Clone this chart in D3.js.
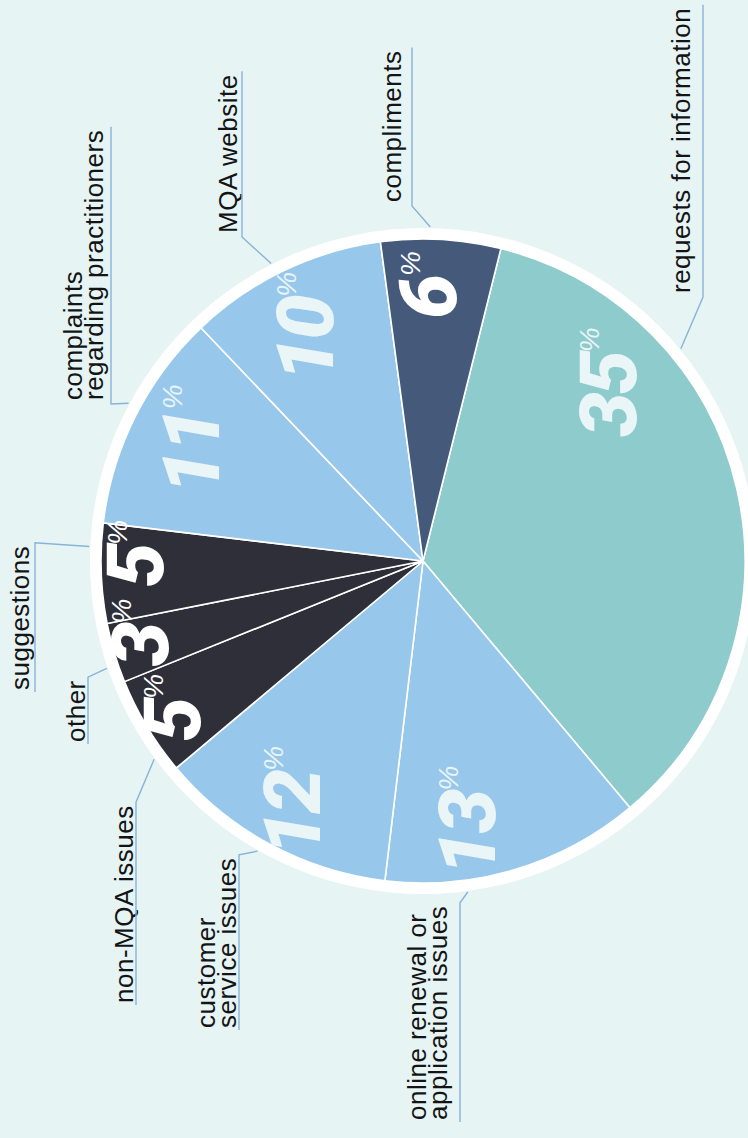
<!DOCTYPE html>
<html>
<head>
<meta charset="utf-8">
<script src="https://cdn.jsdelivr.net/npm/d3@7"></script>
<style>
  html, body { margin: 0; padding: 0; background: #E7F4F4; }
  svg { display: block; }
</style>
</head>
<body>
<svg id="chart" width="748" height="1138"></svg>
<script>
// ---- data ----
const categories = [
  "requests for information",
  "online renewal or application issues",
  "customer service issues",
  "non-MQA issues",
  "other",
  "suggestions",
  "complaints regarding practitioners",
  "MQA website",
  "compliments"
];
const shares = [35, 13, 12, 5, 3, 5, 11, 10, 6];
const labelLines = [
  ["requests for information"],
  ["online renewal or", "application issues"],
  ["customer", "service issues"],
  ["non-MQA issues"],
  ["other"],
  ["suggestions"],
  ["complaints", "regarding practitioners"],
  ["MQA website"],
  ["compliments"]
];

// ---- styling ----
const sliceColors = ["#8ECBCD", "#98C7EC", "#98C7EC", "#2E2F38", "#2E2F38", "#2E2F38", "#98C7EC", "#98C7EC", "#45597A"];
const valueColors = ["#E9F5F6", "#E9F5F6", "#E9F5F6", "#FFFFFF", "#FFFFFF", "#FFFFFF", "#E9F5F6", "#E9F5F6", "#FFFFFF"];

// ---- layout ----
const W = 748, H = 1138;
const cx = 423, cy = 561;
const R = 322, ringR = 333;
const startDeg = 14;
// where the big percentage sits inside each slice (fraction of its sweep, radius)
const valueT = [0.27, 0.66, 0.48, 0.42, 0.5, 0.56, 0.46, 0.43, 0.4];
const valueR = [248, 276, 285, 298, 296, 288, 257, 251, 263];
// where each callout line meets the pie (fraction of the slice sweep)
const leaderT = [0.29, 0.69, 0.53, 0.2, 0.3, 0.76, 0.54, 0.46, 0.41];
// callout text: x of the vertical rule, y where reading starts, side of the bend, baseline x of last line
const callouts = [
  { lineX: 703, startY: 293, side: "above", baseX: 690 },
  { lineX: 460, startY: 1120, side: "below", baseX: 447 },
  { lineX: 239, startY: 1028, side: "below", baseX: 236 },
  { lineX: 136, startY: 1003, side: "below", baseX: 133 },
  { lineX: 88,  startY: 742, side: "below", baseX: 85 },
  { lineX: 35,  startY: 690, side: "below", baseX: 29 },
  { lineX: 111, startY: 400, side: "above", baseX: 103 },
  { lineX: 242, startY: 233, side: "above", baseX: 237 },
  { lineX: 412, startY: 202, side: "above", baseX: 401 }
];
const lineGap = 21;

const data = categories.map((c, i) => ({ category: c, value: shares[i], lines: labelLines[i] }));
const color = d3.scaleOrdinal().domain(categories).range(sliceColors);
const valueColor = d3.scaleOrdinal().domain(categories).range(valueColors);

const svg = d3.select("#chart");
svg.append("rect").attr("width", W).attr("height", H).attr("fill", "#E7F4F4");

const a0 = startDeg * Math.PI / 180;
const pie = d3.pie().sort(null).value(d => d.value).startAngle(a0).endAngle(a0 + 2 * Math.PI);
const arc = d3.arc().innerRadius(0).outerRadius(R);
const arcs = pie(data);
const polar = (a, r) => [r * Math.sin(a), -r * Math.cos(a)];

const g = svg.append("g").attr("transform", `translate(${cx},${cy})`);

// white rim
g.append("circle").attr("r", ringR).attr("fill", "#FFFFFF");

// slices
g.selectAll("path.slice")
  .data(arcs)
  .join("path")
  .attr("class", "slice")
  .attr("d", arc)
  .attr("fill", d => color(d.data.category))
  .attr("stroke", "#FFFFFF")
  .attr("stroke-width", 1.6)
  .attr("stroke-linejoin", "round");

// percentage values
const numSize = 80, pctSize = 28;
arcs.forEach((d, i) => {
  const a = d.startAngle + valueT[i] * (d.endAngle - d.startAngle);
  const [x, y] = polar(a, valueR[i]);
  const lg = g.append("g").attr("transform", `translate(${x},${y}) rotate(-90)`);
  const num = lg.append("text")
    .attr("text-anchor", "middle")
    .attr("y", numSize * 0.355)
    .attr("fill", valueColor(d.data.category))
    .style("font-family", "Roboto, 'Liberation Sans', Arial, sans-serif")
    .style("font-weight", 900)
    .style("font-style", "italic")
    .style("font-size", numSize + "px")
    .style("letter-spacing", "-3px")
    .text(d.data.value);
  const hw = num.node().getComputedTextLength() / 2;
  lg.append("text")
    .attr("x", hw + 1)
    .attr("y", -numSize * 0.355 + pctSize * 0.72)
    .attr("fill", valueColor(d.data.category))
    .style("font-family", "'Liberation Sans', Arial, sans-serif")
    .style("font-weight", 400)
    .style("font-style", "italic")
    .style("font-size", pctSize + "px")
    .text("%");
});

// callouts
const callG = svg.append("g");
arcs.forEach((d, i) => {
  const c = callouts[i];
  const lines = d.data.lines;
  const tg = callG.append("g");
  let maxLen = 0;
  lines.forEach((ln, j) => {
    const bx = c.baseX - (lines.length - 1 - j) * lineGap;
    const t = tg.append("text")
      .attr("transform", `translate(${bx},${c.startY}) rotate(-90)`)
      .attr("fill", "#141416")
      .style("font-family", "'Liberation Sans', Arial, sans-serif")
      .style("font-size", "26px")
      .style("letter-spacing", "0.5px")
      .text(ln);
    maxLen = Math.max(maxLen, t.node().getComputedTextLength());
  });
  const a = d.startAngle + leaderT[i] * (d.endAngle - d.startAngle);
  const [ex, ey] = polar(a, ringR + 1);
  const path = d3.path();
  if (c.side === "above") {
    path.moveTo(c.lineX, c.startY - maxLen - 3);
    path.lineTo(c.lineX, c.startY + 4);
  } else {
    path.moveTo(c.lineX, c.startY + 2);
    path.lineTo(c.lineX, c.startY - maxLen - 3);
  }
  path.lineTo(cx + ex, cy + ey);
  callG.append("path")
    .attr("d", path.toString())
    .attr("fill", "none")
    .attr("stroke", "#88B3D8")
    .attr("stroke-width", 1.4);
});
</script>
</body>
</html>
